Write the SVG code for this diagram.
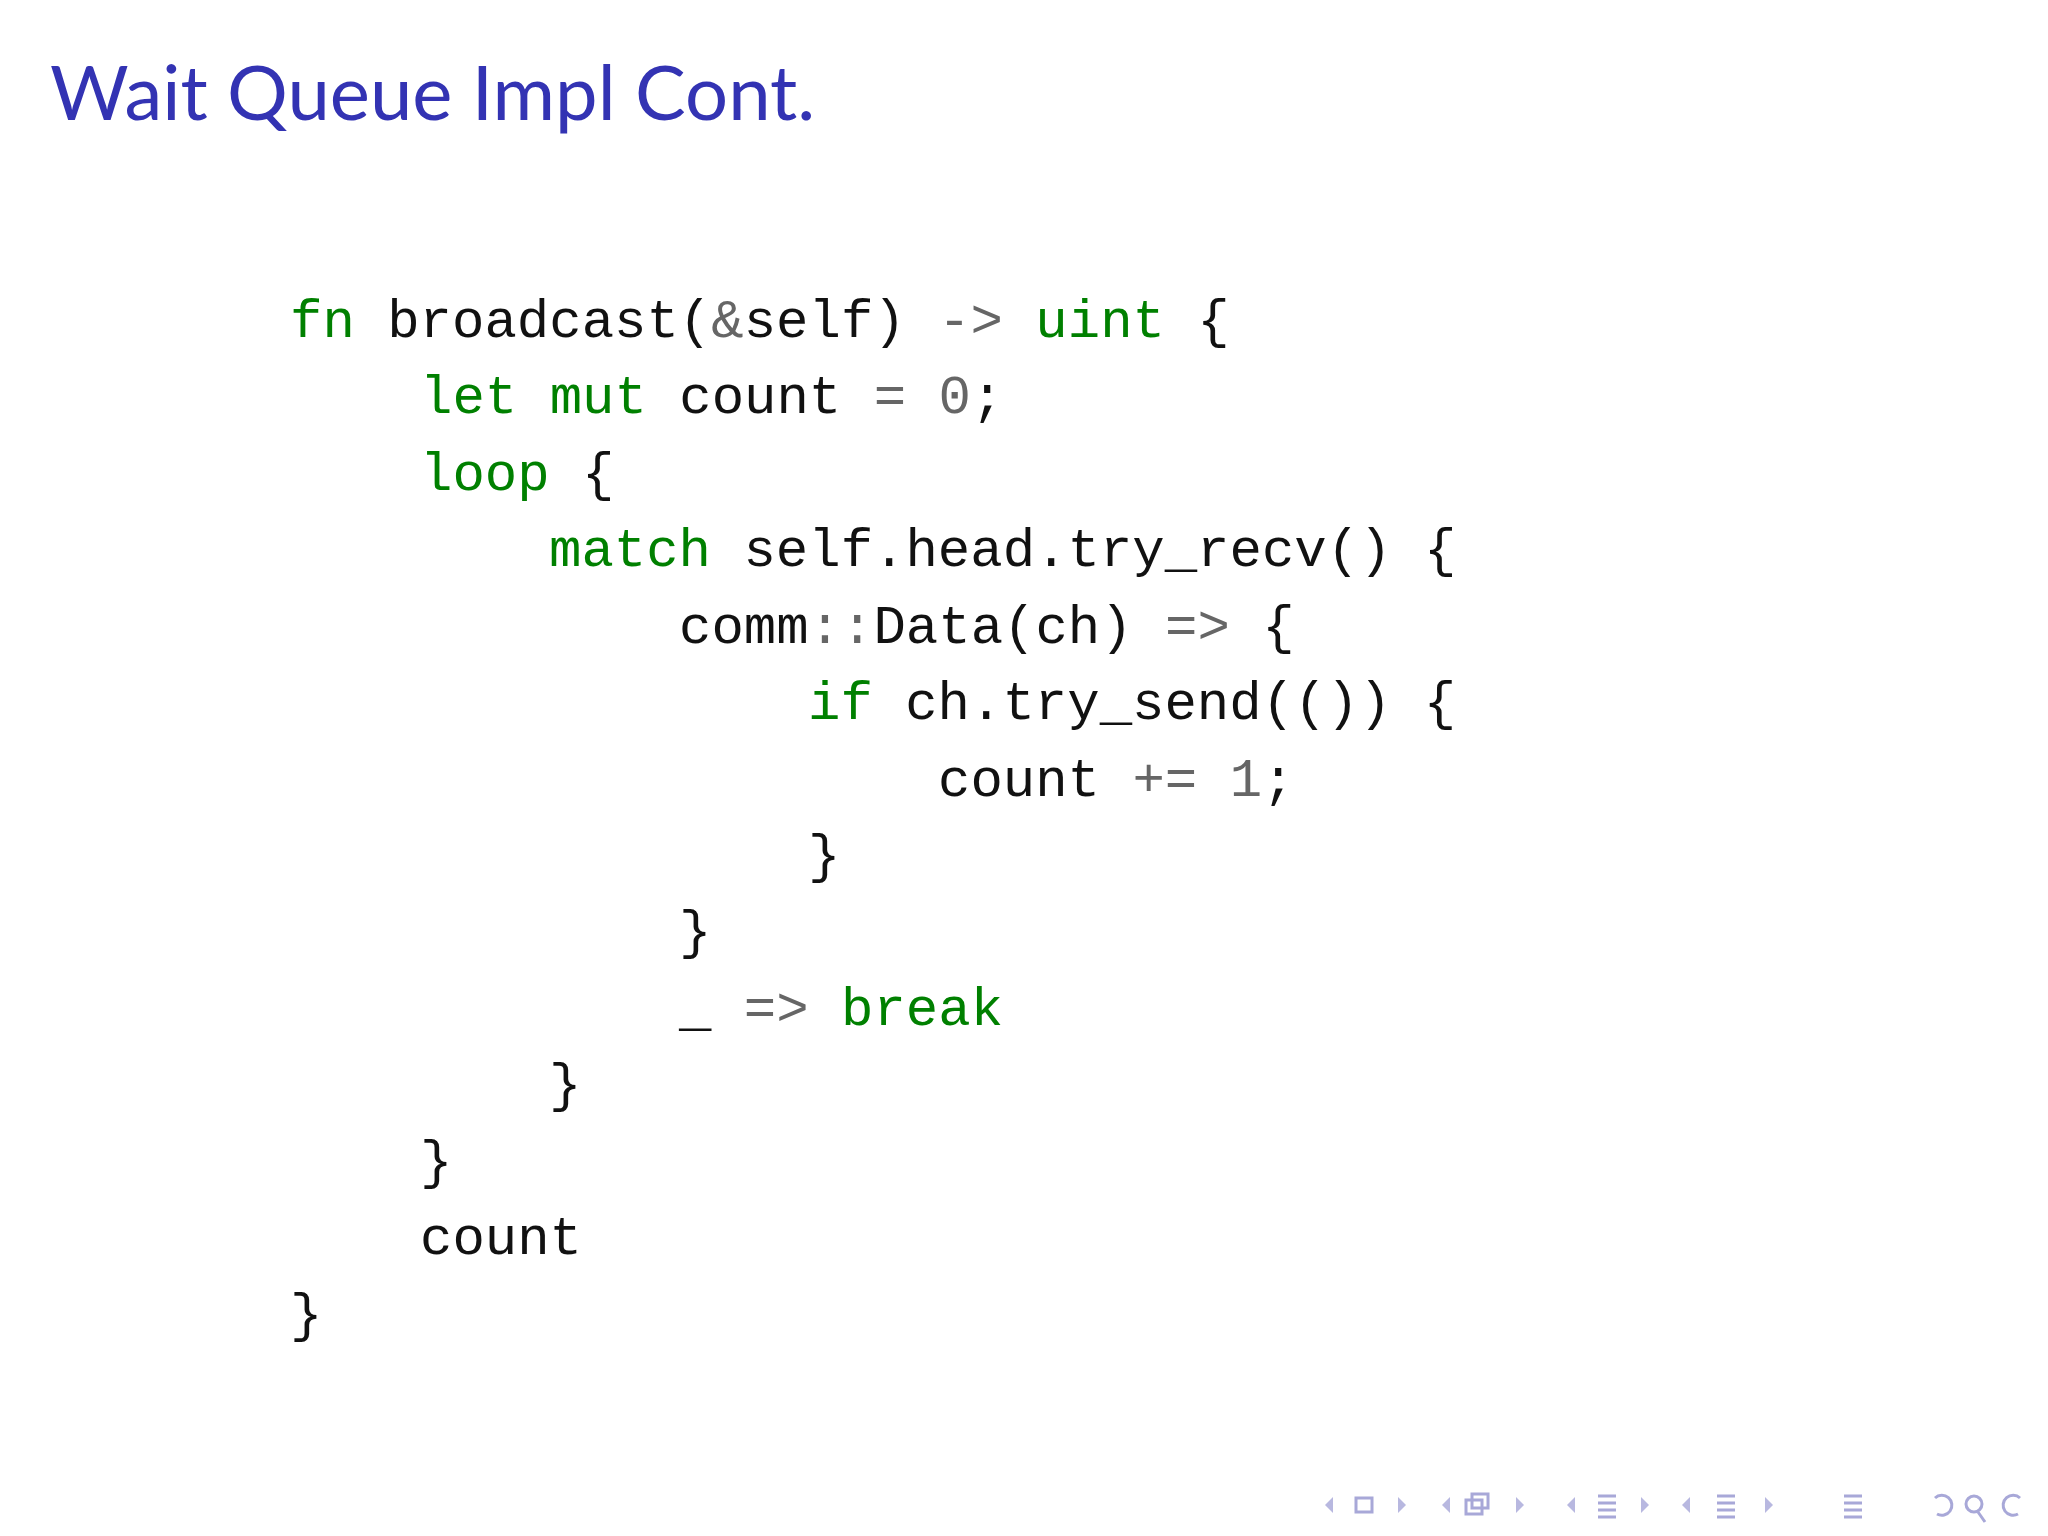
<svg xmlns="http://www.w3.org/2000/svg" width="2048" height="1536" viewBox="0 0 2048 1536">
<style>
.c{font-family:"Liberation Mono",monospace;font-size:54px;fill:#111}
.k{fill:#008000}.o{fill:#666}
.n{fill:#b8b8e0;stroke:none}.ns{fill:none;stroke:#a8a8d8;stroke-width:3}
</style>
<rect width="2048" height="1536" fill="#fff"/>
<g id="title"><text x="50" y="120" font-family="Lato, sans-serif" font-size="76" fill="#3333b3">Wait Queue Impl Cont.</text></g>
<g id="code" class="c">
<text x="290" y="337"><tspan class="k">fn</tspan> broadcast(<tspan class="o">&amp;</tspan>self) <tspan class="o">-&gt;</tspan> <tspan class="k">uint</tspan> {</text>
<text x="420" y="413"><tspan class="k">let</tspan> <tspan class="k">mut</tspan> count <tspan class="o">=</tspan> <tspan class="o">0</tspan>;</text>
<text x="420" y="490"><tspan class="k">loop</tspan> {</text>
<text x="549" y="566"><tspan class="k">match</tspan> self.head.try_recv() {</text>
<text x="679" y="643">comm<tspan class="o">::</tspan>Data(ch) <tspan class="o">=&gt;</tspan> {</text>
<text x="808" y="719"><tspan class="k">if</tspan> ch.try_send(()) {</text>
<text x="938" y="796">count <tspan class="o">+=</tspan> <tspan class="o">1</tspan>;</text>
<text x="808" y="872">}</text>
<text x="679" y="948">}</text>
<text x="679" y="1025">_ <tspan class="o">=&gt;</tspan> <tspan class="k">break</tspan></text>
<text x="549" y="1101">}</text>
<text x="420" y="1178">}</text>
<text x="420" y="1254">count</text>
<text x="290" y="1331">}</text>
</g>
<g id="nav">
<path class="n" d="M1333 1497l-8 8 8 8z M1398 1497l8 8-8 8z M1450 1497l-8 8 8 8z M1516 1497l8 8-8 8z M1575 1497l-8 8 8 8z M1641 1497l8 8-8 8z M1690 1497l-8 8 8 8z M1765 1497l8 8-8 8z"/>
<rect class="ns" x="1356" y="1498" width="16" height="14"/>
<rect class="ns" x="1466" y="1500" width="16" height="14"/><rect class="ns" x="1472" y="1494" width="16" height="14"/>
<path class="ns" d="M1598 1496h18M1598 1503h18M1598 1510h18M1598 1517h18 M1717 1496h18M1717 1503h18M1717 1510h18M1717 1517h18 M1844 1496h18M1844 1503h18M1844 1510h18M1844 1517h18"/>
<path class="ns" d="M1935 1498a10 10 0 1 1 2 16 M2020 1498a10 10 0 1 0 -2 16 M1978 1512l7 10"/>
<circle class="ns" cx="1974" cy="1504" r="8"/>
</g>
</svg>
